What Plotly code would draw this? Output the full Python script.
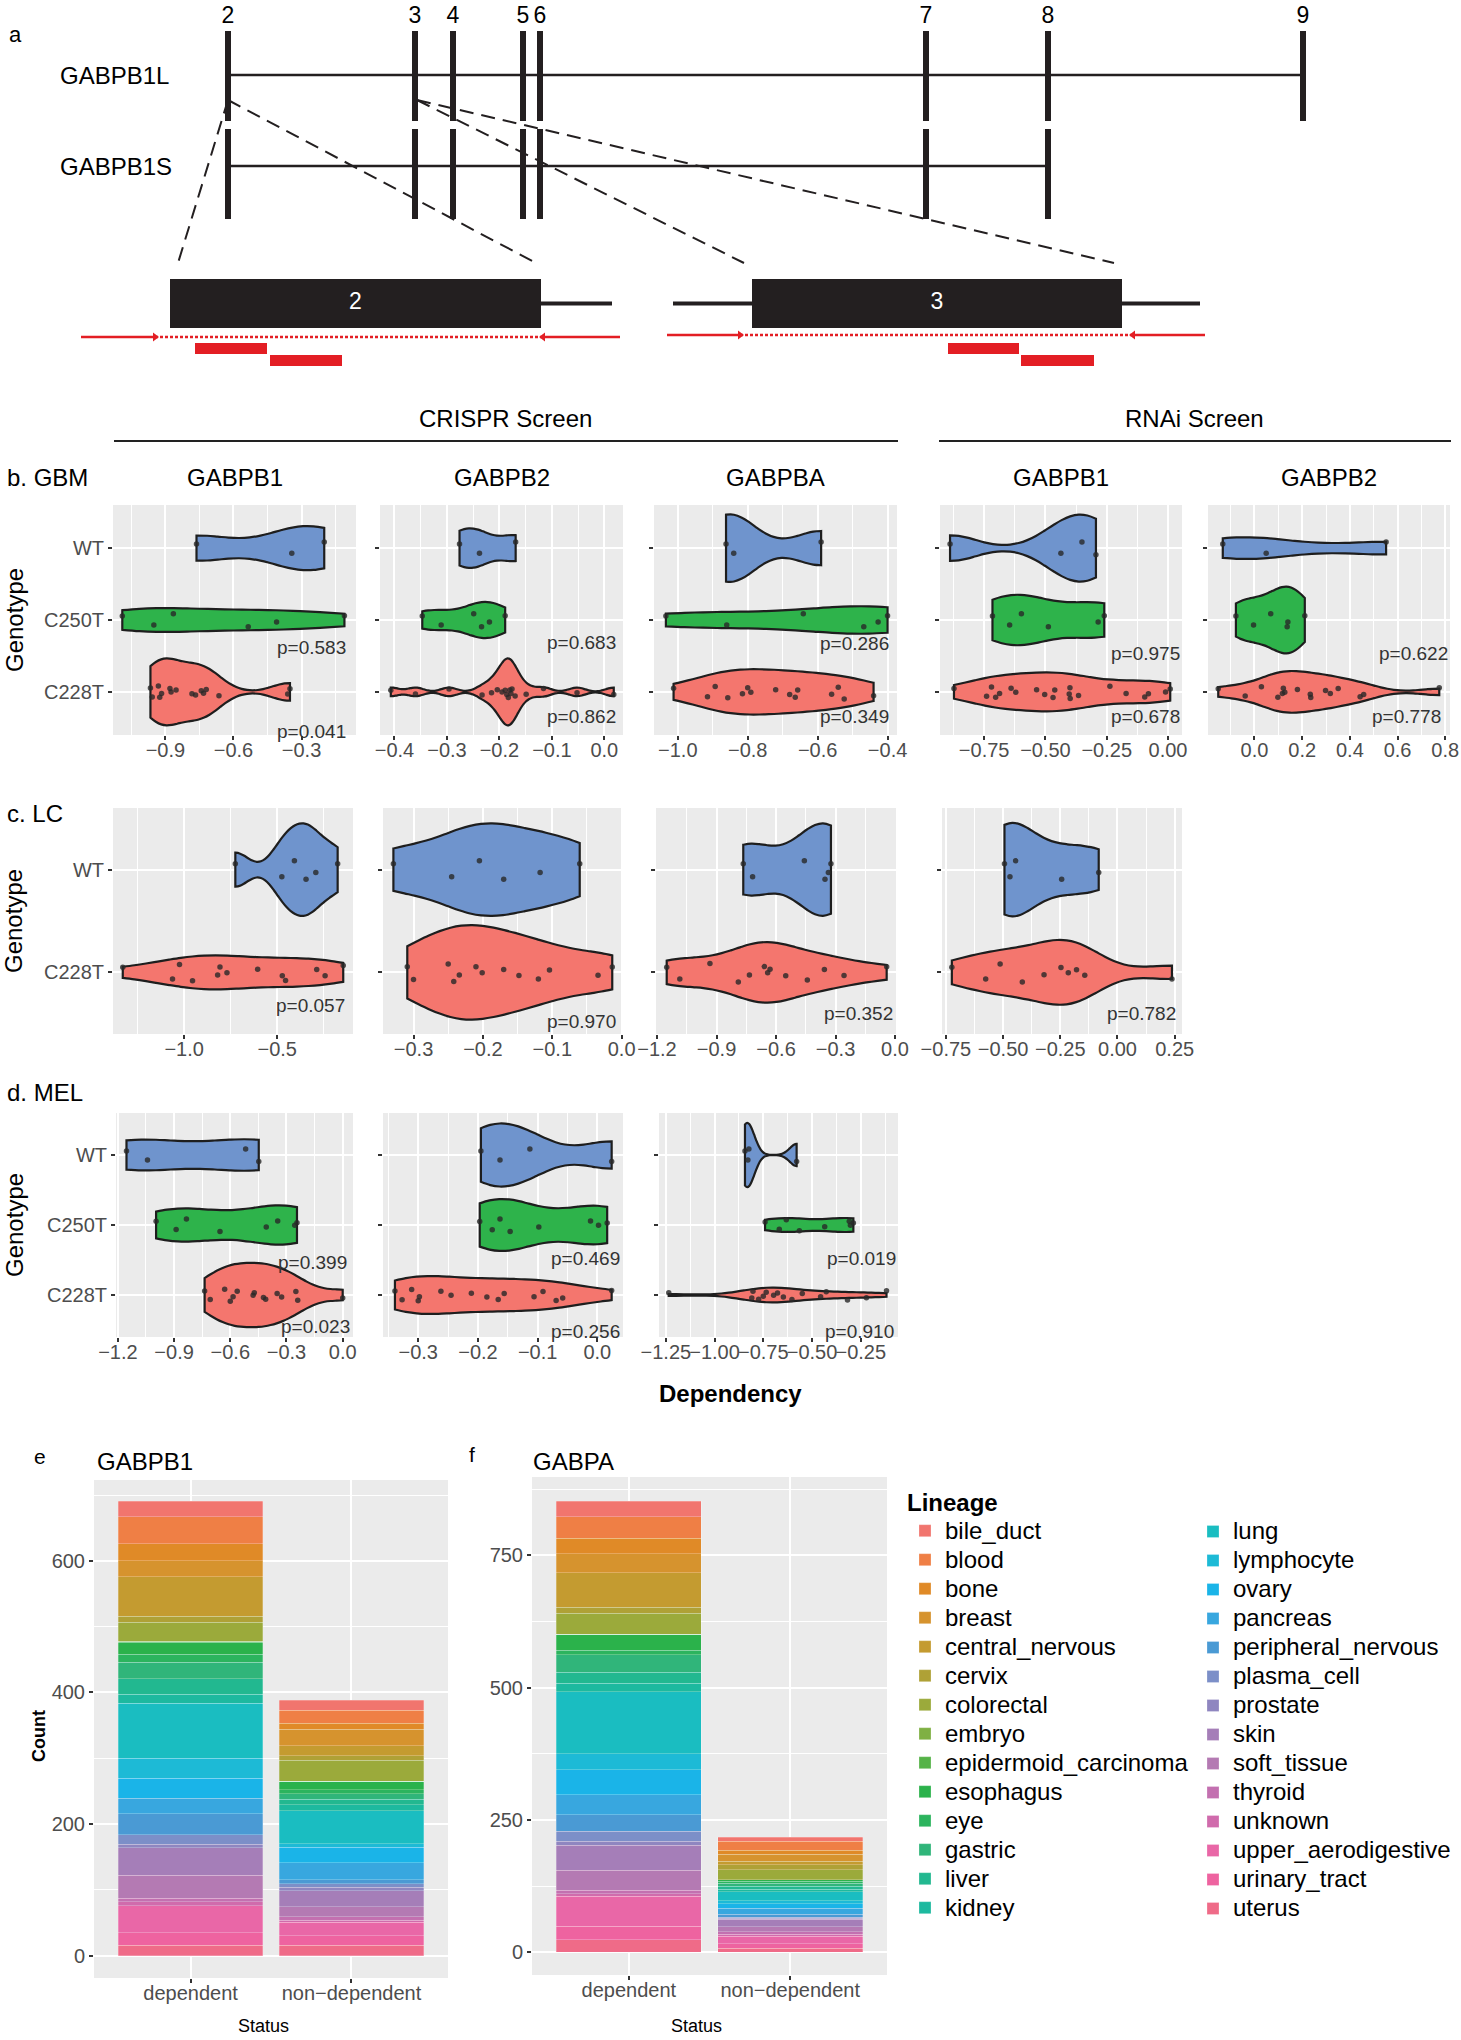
import numpy as np
import plotly.graph_objects as go

W, H = 1461, 2040
FONT = "Liberation Sans, Arial, Helvetica, sans-serif"

# ======================= DATA =======================
# (a) GABPB1 gene model (diagram units along the gene)
exon_labels = ["2", "3", "4", "5", "6", "7", "8", "9"]
exon_pos = [228, 415, 453, 523, 540, 926, 1048, 1303]
isoform_names = ["GABPB1L", "GABPB1S"]
isoform_n_exons = [8, 7]
isoform_line_y = [75, 166]
isoform_bar_top = [31, 129]
isoform_bar_bottom = [121, 219]

zoom_exon_labels = ["2", "3"]
zoom_exon_source = [228, 417]
zoom_box_start = [170, 752]
zoom_box_end = [541, 1122]
zoom_guide_targets = [[178, 536], [744, 1114]]
zoom_intron_left = [None, 673]
zoom_intron_right = [612, 1200]
primer_outer_start = [81, 667]
primer_inner_start = [155, 740]
primer_inner_end = [543, 1133]
primer_outer_end = [620, 1205]
sgrna1_start = [195, 948]
sgrna1_end = [267, 1019]
sgrna2_start = [270, 1021]
sgrna2_end = [342, 1094]

# (b) GBM dependency scores
gbm_crispr_gabpb1_wt = [-0.763, -0.343, -0.20]
gbm_crispr_gabpb1_c250t = [-1.09, -0.951, -0.865, -0.535, -0.41, -0.111]
gbm_crispr_gabpb1_c228t = [-0.966, -0.958, -0.931, -0.925, -0.917, -0.88, -0.875, -0.853, -0.783,
                           -0.767, -0.742, -0.732, -0.72, -0.664, -0.361, -0.351]
gbm_crispr_gabpb2_wt = [-0.276, -0.238, -0.169]
gbm_crispr_gabpb2_c250t = [-0.347, -0.311, -0.249, -0.234, -0.219, -0.189]
gbm_crispr_gabpb2_c228t = [-0.407, -0.36, -0.296, -0.233, -0.215, -0.204, -0.195, -0.189, -0.186,
                           -0.183, -0.18, -0.178, -0.176, -0.17, -0.149, -0.116, -0.052, 0.018]
gbm_crispr_gabpba_wt = [-0.862, -0.84, -0.59]
gbm_crispr_gabpba_c250t = [-1.034, -0.86, -0.641, -0.468, -0.427, -0.40]
gbm_crispr_gabpba_c228t = [-1.012, -0.915, -0.893, -0.857, -0.815, -0.80, -0.791, -0.72, -0.68,
                           -0.664, -0.657, -0.56, -0.541, -0.524, -0.44]
gbm_rnai_gabpb1_wt = [-0.889, -0.437, -0.351, -0.294]
gbm_rnai_gabpb1_c250t = [-0.716, -0.646, -0.598, -0.488, -0.285, -0.26]
gbm_rnai_gabpb1_c228t = [-0.873, -0.74, -0.72, -0.703, -0.687, -0.64, -0.621, -0.536, -0.503, -0.469,
                         -0.462, -0.403, -0.40, -0.399, -0.365, -0.237, -0.171, -0.095, -0.08, -0.01, 0.009]
gbm_rnai_gabpb2_wt = [-0.133, 0.049, 0.552]
gbm_rnai_gabpb2_c250t = [-0.078, -0.004, 0.068, 0.137, 0.14, 0.211]
gbm_rnai_gabpb2_c228t = [-0.152, -0.039, 0.029, 0.098, 0.117, 0.121, 0.127, 0.18, 0.234, 0.236,
                         0.298, 0.318, 0.351, 0.443, 0.458, 0.775]
gbm_p_c250t = ["0.583", "0.683", "0.286", "0.975", "0.622"]
gbm_p_c228t = ["0.041", "0.862", "0.349", "0.678", "0.778"]

# (c) LC dependency scores
lc_crispr_gabpb1_wt = [-0.725, -0.475, -0.4075, -0.345, -0.2925, -0.175]
lc_crispr_gabpb1_c228t = [-1.33, -1.0625, -1.025, -0.955, -0.82, -0.8075, -0.77, -0.605, -0.4725,
                          -0.455, -0.2875, -0.2425, -0.145]
lc_crispr_gabpb2_wt = [-0.329, -0.245, -0.205, -0.17, -0.1175, -0.0604]
lc_crispr_gabpb2_c228t = [-0.309, -0.30, -0.25, -0.242, -0.234, -0.21, -0.201, -0.17, -0.148, -0.12,
                          -0.104, -0.034, -0.0135]
lc_crispr_gabpba_wt = [-0.765, -0.718, -0.457, -0.353, -0.336, -0.323]
lc_crispr_gabpba_c228t = [-1.151, -1.085, -0.933, -0.79, -0.734, -0.659, -0.642, -0.63, -0.551,
                          -0.442, -0.356, -0.257, -0.042]
lc_rnai_gabpb1_wt = [-0.494, -0.47, -0.445, -0.244, -0.082]
lc_rnai_gabpb1_c228t = [-0.724, -0.576, -0.513, -0.416, -0.321, -0.247, -0.215, -0.179, -0.143, 0.238]
lc_p_c228t = ["0.057", "0.970", "0.352", "0.782"]

# (d) MEL dependency scores
mel_crispr_gabpb1_wt = [-1.154, -1.042, -0.518, -0.448]
mel_crispr_gabpb1_c250t = [-0.996, -0.889, -0.834, -0.655, -0.408, -0.347, -0.256, -0.244]
mel_crispr_gabpb1_c228t = [-0.737, -0.707, -0.63, -0.60, -0.585, -0.563, -0.478, -0.472, -0.423,
                           -0.411, -0.35, -0.326, -0.25, -0.24, 0.0]
mel_crispr_gabpb2_wt = [-0.195, -0.163, -0.113, 0.024]
mel_crispr_gabpb2_c250t = [-0.197, -0.176, -0.163, -0.146, -0.098, -0.0114, 0.002, 0.0165]
mel_crispr_gabpb2_c228t = [-0.339, -0.327, -0.311, -0.30, -0.298, -0.262, -0.245, -0.211, -0.185,
                           -0.166, -0.156, -0.106, -0.091, -0.069, -0.058, 0.024]
mel_crispr_gabpba_wt = [-0.844, -0.829, -0.824, -0.579]
mel_crispr_gabpba_c250t = [-0.741, -0.668, -0.632, -0.565, -0.435, -0.309, -0.303, -0.288]
mel_crispr_gabpba_c228t = [-1.235, -0.809, -0.803, -0.774, -0.75, -0.735, -0.697, -0.677, -0.647,
                           -0.603, -0.55, -0.456, -0.427, -0.318, -0.221, -0.118]
mel_p_c250t = ["0.399", "0.469", "0.019"]
mel_p_c228t = ["0.023", "0.256", "0.910"]

# (e, f) lineage counts
lineages = ["bile_duct", "blood", "bone", "breast", "central_nervous", "cervix", "colorectal",
            "embryo", "epidermoid_carcinoma", "esophagus", "eye", "gastric", "liver", "kidney",
            "lung", "lymphocyte", "ovary", "pancreas", "peripheral_nervous", "plasma_cell",
            "prostate", "skin", "soft_tissue", "thyroid", "unknown", "upper_aerodigestive",
            "urinary_tract", "uterus"]
status = ["dependent", "non-dependent"]
status_labels = ["dependent", "non\u2212dependent"]
gabpb1_dependent = [24, 41, 26, 24, 60, 9, 29, 1, 1, 18, 12, 25, 24, 13, 84, 30, 31, 23, 32, 15,
                    5, 42, 35, 5, 6, 41, 19, 16]
gabpb1_nondependent = [15, 20, 9, 25, 15, 7, 32, 0, 0, 13, 6, 8, 9, 9, 50, 5, 24, 26, 6, 5,
                       5, 25, 15, 5, 3, 21, 14, 16]
gabpa_dependent = [29, 41, 29, 36, 65, 11, 40, 0, 0, 30, 9, 33, 21, 16, 117, 30, 47, 38, 31, 19,
                   8, 47, 38, 6, 5, 57, 25, 24]
gabpa_nondependent = [7, 17, 8, 13, 7, 9, 19, 0, 0, 3, 4, 5, 6, 5, 17, 5, 9, 11, 6, 2,
                      2, 14, 9, 5, 4, 14, 8, 8]

# ======================= STYLE =======================
lineage_colors = ["#F1756E", "#EF7F45", "#E08A27", "#D6932E", "#C49B30", "#AFA136", "#9BAA3B",
                  "#7FB043", "#55B348", "#2BB24B", "#2CB45E", "#30B57A", "#22B890", "#1DB99F",
                  "#1ABDC1", "#1DBAD6", "#1AB4E8", "#38A7DF", "#4A9AD4", "#7C8FC8", "#8F86C0",
                  "#A57EB8", "#B47AB3", "#C370B0", "#D06BAC", "#E967A7", "#EE63A0", "#EF6B88"]
geno_colors = {"WT": "#6F94CD", "C250T": "#2EB34B", "C228T": "#F4766E"}
INK = "#231F20"
RED = "#E31E24"
TICK_GRAY = "#4D4D4D"
LEGEND_TEXT_PX = 24


def X(px):
    return px / W


def Y(py):
    return 1 - py / H


def nrd0(v):
    v = np.asarray(v, dtype=float)
    sd = v.std(ddof=1)
    q75, q25 = np.percentile(v, [75, 25])
    lo = min(sd, (q75 - q25) / 1.34) if q75 > q25 else sd
    return 0.9 * lo * len(v) ** -0.2


fig = go.Figure()
annotations = []
shapes = []
layout = {}


def ann(text, x, y, size, xanchor="center", yanchor="middle", bold=False, color="black", angle=0):
    annotations.append(dict(text=("<b>%s</b>" % text) if bold else text, x=X(x), y=Y(y),
                            xref="paper", yref="paper", xanchor=xanchor, yanchor=yanchor,
                            showarrow=False, textangle=angle,
                            font=dict(size=size, color=color, family=FONT)))


def line_trace(xs, ys, color, width, dash="solid", ax="x", ay="y"):
    fig.add_trace(go.Scatter(x=xs, y=ys, mode="lines", line=dict(color=color, width=width, dash=dash),
                             xaxis=ax, yaxis=ay, showlegend=False, hoverinfo="skip"))


def rect_trace(x0, x1, y0, y1, color):
    fig.add_trace(go.Scatter(x=[x0, x1, x1, x0, x0], y=[y0, y0, y1, y1, y0], mode="lines",
                             fill="toself", fillcolor=color, line=dict(width=0, color=color),
                             xaxis="x", yaxis="y", showlegend=False, hoverinfo="skip"))


# ======================= PANEL A =======================
layout["xaxis"] = dict(domain=[0, 1], range=[0, W], visible=False, fixedrange=True)
layout["yaxis"] = dict(domain=[Y(400), 1], range=[400, 0], visible=False, anchor="x", fixedrange=True)
shapes.append(dict(type="rect", xref="x domain", yref="y domain", x0=0, x1=1, y0=0, y1=1,
                   fillcolor="white", line=dict(width=0), layer="below"))

gx, gy = [], []
for src, tg in zip(zoom_exon_source, zoom_guide_targets):
    for t in tg:
        gx += [src, t, None]
        gy += [100, 263, None]
line_trace(gx, gy, INK, 2, dash="14px,8px")

for i, name in enumerate(isoform_names):
    n = isoform_n_exons[i]
    line_trace([exon_pos[0], exon_pos[n - 1]], [isoform_line_y[i]] * 2, INK, 2.5)
    xs, ys = [], []
    for p in exon_pos[:n]:
        xs += [p, p, None]
        ys += [isoform_bar_top[i], isoform_bar_bottom[i], None]
    line_trace(xs, ys, INK, 6)
    annotations.append(dict(text=name, xref="x", yref="y", x=58, y=isoform_line_y[i],
                            xanchor="left", yanchor="middle", showarrow=False,
                            font=dict(size=24, color="black", family=FONT)))

fig.add_trace(go.Scatter(x=exon_pos, y=[17] * len(exon_pos), text=exon_labels, mode="text",
                         textfont=dict(size=23, color="black", family=FONT), textposition="middle center",
                         xaxis="x", yaxis="y", showlegend=False, hoverinfo="skip", cliponaxis=False))

for i in range(2):
    mid = (279 + 328) / 2
    if zoom_intron_left[i] is not None:
        line_trace([zoom_intron_left[i], zoom_box_start[i]], [mid, mid], INK, 4)
    line_trace([zoom_box_end[i], zoom_intron_right[i]], [mid, mid], INK, 4)
    rect_trace(zoom_box_start[i], zoom_box_end[i], 279, 328, INK)
    fig.add_trace(go.Scatter(x=[(zoom_box_start[i] + zoom_box_end[i]) / 2], y=[mid],
                             text=[zoom_exon_labels[i]], mode="text",
                             textfont=dict(size=23, color="white", family=FONT),
                             xaxis="x", yaxis="y", showlegend=False, hoverinfo="skip"))
    py = 337 - 2 * i
    line_trace([primer_outer_start[i], primer_inner_start[i]], [py, py], RED, 2.5)
    line_trace([primer_inner_end[i], primer_outer_end[i]], [py, py], RED, 2.5)
    line_trace([primer_inner_start[i], primer_inner_end[i]], [py, py], RED, 2.5, dash="3px,2px")
    fig.add_trace(go.Scatter(x=[primer_inner_start[i], primer_inner_end[i]], y=[py, py], mode="markers",
                             marker=dict(symbol=["triangle-right", "triangle-left"], size=8, color=RED),
                             xaxis="x", yaxis="y", showlegend=False, hoverinfo="skip"))
    rect_trace(sgrna1_start[i], sgrna1_end[i], 343, 354, RED)
    rect_trace(sgrna2_start[i], sgrna2_end[i], 355, 366, RED)

ann("a", 7, 34, 22, xanchor="left")

# ======================= VIOLIN PANELS =======================
rows = [
    dict(cats=["WT", "C250T", "C228T"], ypx=(505, 735), panels=[
        dict(x=(113, 356), rng=[-1.131, -0.06], dt=0.3, fmt=".1f", title="GABPB1",
             data=[gbm_crispr_gabpb1_wt, gbm_crispr_gabpb1_c250t, gbm_crispr_gabpb1_c228t],
             w=[0.61, 0.33, 0.93], p=[None, gbm_p_c250t[0], gbm_p_c228t[0]],
             pxy=[None, (348, 647), (348, 731)]),
        dict(x=(380, 623), rng=[-0.4276, 0.0356], dt=0.1, fmt=".1f", title="GABPB2",
             data=[gbm_crispr_gabpb2_wt, gbm_crispr_gabpb2_c250t, gbm_crispr_gabpb2_c228t],
             w=[0.55, 0.50, 0.93], p=[None, gbm_p_c250t[1], gbm_p_c228t[1]],
             pxy=[None, (618, 642), (618, 716)]),
        dict(x=(654, 897), rng=[-1.068, -0.373], dt=0.2, fmt=".1f", title="GABPBA",
             data=[gbm_crispr_gabpba_wt, gbm_crispr_gabpba_c250t, gbm_crispr_gabpba_c228t],
             w=[0.93, 0.38, 0.63], p=[None, gbm_p_c250t[2], gbm_p_c228t[2]],
             pxy=[None, (891, 643), (891, 716)]),
        dict(x=(940, 1182), rng=[-0.93, 0.057], dt=0.25, fmt=".2f", title="GABPB1",
             data=[gbm_rnai_gabpb1_wt, gbm_rnai_gabpb1_c250t, gbm_rnai_gabpb1_c228t],
             w=[0.93, 0.70, 0.54], p=[None, gbm_p_c250t[3], gbm_p_c228t[3]],
             pxy=[None, (1182, 653), (1182, 716)]),
        dict(x=(1208, 1450), rng=[-0.195, 0.82], dt=0.2, fmt=".1f", title="GABPB2",
             data=[gbm_rnai_gabpb2_wt, gbm_rnai_gabpb2_c250t, gbm_rnai_gabpb2_c228t],
             w=[0.30, 0.93, 0.58], p=[None, gbm_p_c250t[4], gbm_p_c228t[4]],
             pxy=[None, (1450, 653), (1443, 716)]),
    ]),
    dict(cats=["WT", "C228T"], ypx=(808, 1034), panels=[
        dict(x=(113, 353), rng=[-1.3825, -0.0925], dt=0.5, fmt=".1f",
             data=[lc_crispr_gabpb1_wt, lc_crispr_gabpb1_c228t], w=[0.90, 0.33],
             p=[None, lc_p_c228t[0]], pxy=[None, (347, 1005)]),
        dict(x=(383, 623), rng=[-0.344, 0.002], dt=0.1, fmt=".1f",
             data=[lc_crispr_gabpb2_wt, lc_crispr_gabpb2_c228t], w=[0.90, 0.92],
             p=[None, lc_p_c228t[1]], pxy=[None, (618, 1021)]),
        dict(x=(656, 896), rng=[-1.205, 0.005], dt=0.3, fmt=".1f",
             data=[lc_crispr_gabpba_wt, lc_crispr_gabpba_c228t], w=[0.90, 0.59],
             p=[None, lc_p_c228t[2]], pxy=[None, (895, 1013)]),
        dict(x=(942, 1182), rng=[-0.767, 0.282], dt=0.25, fmt=".2f",
             data=[lc_rnai_gabpb1_wt, lc_rnai_gabpb1_c228t], w=[0.91, 0.63],
             p=[None, lc_p_c228t[3]], pxy=[None, (1178, 1013)]),
    ]),
    dict(cats=["WT", "C250T", "C228T"], ypx=(1113, 1337), panels=[
        dict(x=(116, 353), rng=[-1.21, 0.055], dt=0.3, fmt=".1f",
             data=[mel_crispr_gabpb1_wt, mel_crispr_gabpb1_c250t, mel_crispr_gabpb1_c228t],
             w=[0.45, 0.56, 0.92], p=[None, mel_p_c250t[0], mel_p_c228t[0]],
             pxy=[None, (349, 1262), (352, 1326)]),
        dict(x=(383, 623), rng=[-0.359, 0.043], dt=0.1, fmt=".1f",
             data=[mel_crispr_gabpb2_wt, mel_crispr_gabpb2_c250t, mel_crispr_gabpb2_c228t],
             w=[0.90, 0.74, 0.54], p=[None, mel_p_c250t[1], mel_p_c228t[1]],
             pxy=[None, (622, 1258), (622, 1331)]),
        dict(x=(659, 898), rng=[-1.285, -0.059], dt=0.25, fmt=".2f",
             data=[mel_crispr_gabpba_wt, mel_crispr_gabpba_c250t, mel_crispr_gabpba_c228t],
             w=[0.92, 0.20, 0.21], p=[None, mel_p_c250t[2], mel_p_c228t[2]],
             pxy=[None, (898, 1258), (896, 1331)]),
    ]),
]

k = 1
for row in rows:
    cats = row["cats"]
    y0, y1 = row["ypx"]
    for j, pnl in enumerate(row["panels"]):
        k += 1
        xa, ya = "x%d" % k, "y%d" % k
        for cat, vals, w in zip(cats, pnl["data"], pnl["w"]):
            fig.add_trace(go.Violin(
                x=vals, y=[cat] * len(vals), orientation="h", xaxis=xa, yaxis=ya,
                width=w, scalemode="width", spanmode="hard", bandwidth=nrd0(vals),
                fillcolor=geno_colors[cat], line=dict(color="#1E1E1E", width=2.2),
                points="all", pointpos=0, jitter=min(1.0, 0.22 / w),
                marker=dict(size=5.5, color="rgba(40,40,40,0.8)"),
                box_visible=False, meanline_visible=False, showlegend=False, hoverinfo="x"))
        dt = pnl["dt"]
        layout["xaxis%d" % k] = dict(
            domain=[X(pnl["x"][0]), X(pnl["x"][1])], anchor=ya, range=pnl["rng"],
            tick0=0, dtick=dt, tickformat=pnl["fmt"], tickangle=0, ticklabelstandoff=-7,
            showgrid=True, gridcolor="white", gridwidth=2, zeroline=False, showline=False,
            ticks="outside", ticklen=4, tickwidth=2, tickcolor="#333333",
            tickfont=dict(size=20, color=TICK_GRAY, family=FONT),
            minor=dict(tick0=0, dtick=dt / 2, showgrid=True, gridcolor="white", gridwidth=1, ticks=""),
            fixedrange=True)
        layout["yaxis%d" % k] = dict(
            domain=[Y(y1), Y(y0)], anchor=xa, type="category", categoryorder="array",
            categoryarray=cats[::-1], range=[-0.6, len(cats) - 0.4],
            showgrid=True, gridcolor="white", gridwidth=2, zeroline=False, showline=False,
            ticks="outside", ticklen=4, tickwidth=2, tickcolor="#333333",
            showticklabels=(j == 0), tickfont=dict(size=20, color=TICK_GRAY, family=FONT),
            fixedrange=True)
        if "title" in pnl:
            ann(pnl["title"], (pnl["x"][0] + pnl["x"][1]) / 2, 477, 24)
        for ptxt, pos in zip(pnl["p"], pnl["pxy"]):
            if ptxt is not None:
                ann("p=" + ptxt, pos[0], pos[1], 19, xanchor="right", color="#333333")
    ann("Genotype", 14, (y0 + y1) / 2, 24, angle=-90)

ann("CRISPR Screen", 505, 419, 24)
ann("RNAi Screen", 1194, 419, 24)
shapes.append(dict(type="line", xref="paper", yref="paper", x0=X(114), x1=X(898), y0=Y(441), y1=Y(441),
                   line=dict(color="#222222", width=2)))
shapes.append(dict(type="line", xref="paper", yref="paper", x0=X(939), x1=X(1451), y0=Y(441), y1=Y(441),
                   line=dict(color="#222222", width=2)))
ann("b. GBM", 5, 477, 24, xanchor="left")
ann("c. LC", 5, 813, 24, xanchor="left")
ann("d. MEL", 5, 1092, 24, xanchor="left")
ann("Dependency", 730, 1393, 24, bold=True)

# ======================= BAR PANELS =======================
bar_sets = [
    dict(k=14, x=(94, 448), y=(1480, 1978), dep=gabpb1_dependent, non=gabpb1_nondependent,
         rng=[-34, 723], dt=200, legend=True),
    dict(k=15, x=(532, 887), y=(1477, 1975), dep=gabpa_dependent, non=gabpa_nondependent,
         rng=[-43, 898], dt=250, legend=False),
]
for bs in bar_sets:
    kk = bs["k"]
    xa, ya = "x%d" % kk, "y%d" % kk
    for i in reversed(range(len(lineages))):
        nm = lineages[i]
        if bs["legend"]:
            nm = '<span style="font-size:%dpx">%s</span>' % (LEGEND_TEXT_PX, lineages[i])
        fig.add_trace(go.Bar(
            x=status, y=[bs["dep"][i], bs["non"][i]], name=nm, width=0.9,
            marker=dict(color=lineage_colors[i], line=dict(width=0.7, color="rgba(255,255,255,0.35)")),
            xaxis=xa, yaxis=ya, showlegend=bs["legend"],
            legend="legend" if i < 14 else "legend2",
            hovertemplate=lineages[i] + ": %{y}<extra></extra>"))
    layout["xaxis%d" % kk] = dict(
        domain=[X(bs["x"][0]), X(bs["x"][1])], anchor=ya, type="category",
        categoryorder="array", categoryarray=status, tickvals=status, ticktext=status_labels,
        range=[-0.6, 1.6], showgrid=True, gridcolor="white", gridwidth=2, zeroline=False,
        ticks="outside", ticklen=4, tickwidth=2, tickcolor="#333333", ticklabelstandoff=-7,
        tickfont=dict(size=20, color=TICK_GRAY, family=FONT), fixedrange=True)
    layout["yaxis%d" % kk] = dict(
        domain=[Y(bs["y"][1]), Y(bs["y"][0])], anchor=xa, range=bs["rng"], tick0=0, dtick=bs["dt"],
        showgrid=True, gridcolor="white", gridwidth=2, zeroline=False,
        ticks="outside", ticklen=4, tickwidth=2, tickcolor="#333333",
        tickfont=dict(size=20, color=TICK_GRAY, family=FONT),
        minor=dict(tick0=0, dtick=bs["dt"] / 2, showgrid=True, gridcolor="white", gridwidth=1, ticks=""),
        fixedrange=True)

ann("e", 40, 1456, 21)
ann("GABPB1", 95, 1461, 24, xanchor="left")
ann("f", 472, 1454, 21)
ann("GABPA", 531, 1461, 24, xanchor="left")
ann("Count", 39, 1736, 18, bold=True, angle=-90)
ann("Status", 263, 2026, 18)
ann("Status", 696, 2026, 18)

fig.update_layout(
    width=W, height=H, margin=dict(l=0, r=0, t=0, b=0, autoexpand=False),
    paper_bgcolor="white", plot_bgcolor="#EBEBEB",
    font=dict(family=FONT, color="black"),
    violinmode="overlay", barmode="stack",
    annotations=annotations, shapes=shapes,
    legend=dict(title=dict(text="<b>Lineage</b>", font=dict(size=24, family=FONT)),
                font=dict(size=20, family=FONT), x=X(905), y=Y(1480), xanchor="left", yanchor="top",
                traceorder="reversed", bgcolor="rgba(0,0,0,0)", tracegroupgap=0),
    legend2=dict(font=dict(size=20, family=FONT), x=X(1193), y=Y(1512), xanchor="left", yanchor="top",
                 traceorder="reversed", bgcolor="rgba(0,0,0,0)", tracegroupgap=0),
    **layout,
)

fig.write_html("out.html", post_script="document.body.style.margin='0px';",
               config={"displayModeBar": False})
